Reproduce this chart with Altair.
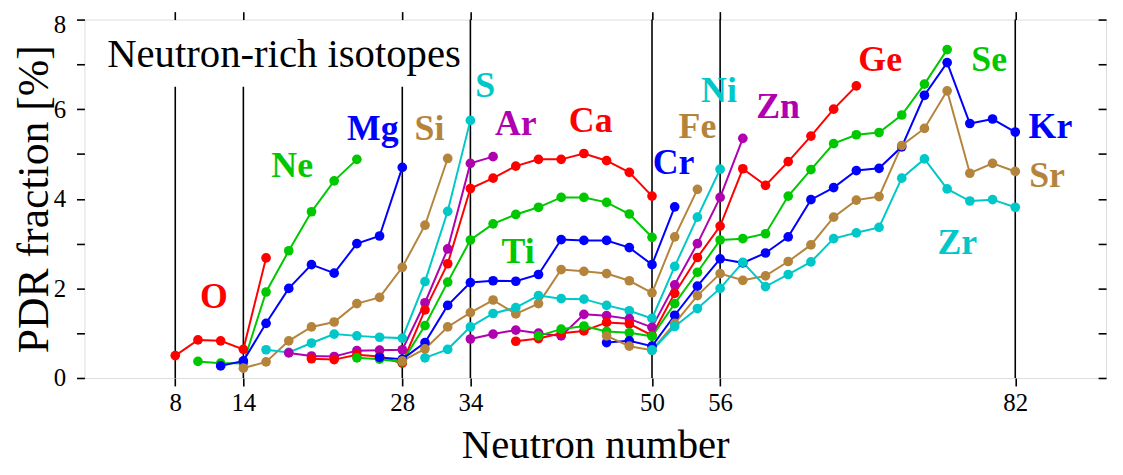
import altair as alt
import pandas as pd

# ---------------- data ----------------
elements = ["O", "Ne", "Mg", "Si", "S", "Ar", "Ca", "Ti", "Cr", "Fe",
            "Ni", "Zn", "Ge", "Se", "Kr", "Sr", "Zr"]
colors = ["#ff0000", "#00c800", "#0000ff", "#b5843c", "#00c8c8", "#b000b0",
          "#ff0000", "#00c800", "#0000ff", "#b5843c", "#00c8c8", "#b000b0",
          "#ff0000", "#00c800", "#0000ff", "#b5843c", "#00c8c8"]
# first neutron number of each isotopic chain (even-even nuclei, step 2)
start_n = [8, 10, 12, 14, 16, 18, 20, 24, 26, 28, 30, 34, 38, 40, 46, 46, 50]

O_vals = [0.50, 0.85, 0.83, 0.64, 2.68]
Ne_vals = [0.37, 0.33, 0.33, 1.92, 2.84, 3.71, 4.40, 4.88]
Mg_vals = [0.27, 0.38, 1.22, 2.00, 2.53, 2.34, 3.00, 3.17, 4.70]
Si_vals = [0.22, 0.36, 0.83, 1.14, 1.25, 1.66, 1.80, 2.47, 3.41, 4.90]
S_vals = [0.63, 0.57, 0.78, 0.98, 0.94, 0.91, 0.89, 2.15, 3.72, 5.75]
Ar_vals = [0.56, 0.49, 0.48, 0.61, 0.62, 0.63, 1.68, 2.88, 4.79, 4.94]
Ca_vals = [0.43, 0.41, 0.52, 0.48, 0.33, 1.52, 2.55, 4.23, 4.46, 4.73,
           4.88, 4.88, 5.01, 4.85, 4.59, 4.06]
Ti_vals = [0.45, 0.42, 0.36, 1.17, 2.14, 3.08, 3.44, 3.65, 3.81, 4.03,
           4.03, 3.92, 3.66, 3.14]
Cr_vals = [0.46, 0.42, 0.79, 1.62, 2.13, 2.17, 2.16, 2.31, 3.09, 3.07,
           3.07, 2.91, 2.53, 3.82]
Fe_vals = [0.38, 0.65, 1.14, 1.46, 1.74, 1.43, 1.66, 2.42, 2.38, 2.33,
           2.17, 1.90, 3.15, 4.21]
Ni_vals = [0.45, 0.64, 1.14, 1.44, 1.57, 1.84, 1.77, 1.76, 1.62, 1.50,
           1.33, 2.49, 3.59, 4.66]
Zn_vals = [0.87, 0.98, 1.07, 1.00, 0.94, 1.42, 1.39, 1.32, 1.13, 2.08,
           3.00, 4.03, 5.35]
Ge_vals = [0.82, 0.88, 1.00, 1.05, 1.24, 1.21, 0.95, 1.89, 2.69, 3.39,
           4.67, 4.30, 4.83, 5.40, 6.00, 6.52]
Se_vals = [0.94, 1.09, 1.16, 1.04, 1.01, 0.93, 1.66, 2.36, 3.08, 3.11,
           3.22, 4.06, 4.65, 5.23, 5.43, 5.48, 5.87, 6.56, 7.33]
Kr_vals = [0.79, 0.83, 0.71, 1.40, 2.05, 2.66, 2.57, 2.79, 3.15, 3.98,
           4.25, 4.63, 4.68, 5.16, 6.31, 7.04, 5.68, 5.78, 5.49]
Sr_vals = [0.94, 0.71, 0.62, 1.22, 1.84, 2.33, 2.18, 2.28, 2.60, 2.97,
           3.59, 3.97, 4.05, 5.19, 5.57, 6.41, 4.57, 4.79, 4.61]
Zr_vals = [0.62, 1.15, 1.55, 2.00, 2.58, 2.04, 2.31, 2.59, 3.11, 3.24,
           3.36, 4.46, 4.89, 4.22, 3.95, 3.98, 3.81]

all_vals = [O_vals, Ne_vals, Mg_vals, Si_vals, S_vals, Ar_vals, Ca_vals,
            Ti_vals, Cr_vals, Fe_vals, Ni_vals, Zn_vals, Ge_vals, Se_vals,
            Kr_vals, Sr_vals, Zr_vals]

# element label anchor positions (data units)
label_n = [11.4, 18.3, 25.4, 30.4, 35.3, 38.0, 44.6, 38.2, 51.9, 54.0,
           55.9, 61.1, 70.1, 79.7, 85.1, 84.8, 76.9]
label_y = [1.80, 4.72, 5.56, 5.56, 6.52, 5.67, 5.74, 2.82, 4.79, 5.60,
           6.40, 6.04, 7.09, 7.09, 5.60, 4.51, 3.01]

magic = [8, 14, 28, 34, 50, 56, 82]
magic_top = [6.5, 6.5, 6.5, 8, 8, 8, 8]

title_text = "Neutron-rich isotopes"
title_n = 2.0
title_y = 6.95

# ---------------- tables ----------------
rows = []
for el, s, vals in zip(elements, start_n, all_vals):
    for i, v in enumerate(vals):
        rows.append({"el": el, "N": s + 2 * i, "PDR": v, "ord": elements.index(el)})
df = pd.DataFrame(rows)
lab_df = pd.DataFrame({"el": elements, "N": label_n, "PDR": label_y})
magic_df = pd.DataFrame({"N": magic, "y0": [0] * len(magic), "y1": magic_top})
title_df = pd.DataFrame({"t": [title_text], "N": [title_n], "PDR": [title_y]})

FONT = "Liberation Serif"
xscale = alt.Scale(domain=[0, 90], nice=False, zero=False)
yscale = alt.Scale(domain=[0, 8], nice=False, zero=True)
cscale = alt.Scale(domain=elements, range=colors)

rules = alt.Chart(magic_df).mark_rule(color="black", strokeWidth=1.6).encode(
    x=alt.X("N:Q", scale=xscale,
            axis=alt.Axis(orient="top", values=magic, labels=False, tickSize=8,
                          tickWidth=1.6, tickColor="black", domain=False,
                          grid=False, title=None)),
    y=alt.Y("y0:Q", scale=yscale,
            axis=alt.Axis(orient="right", values=list(range(9)), labels=False,
                          tickSize=8, tickWidth=1.6, tickColor="black",
                          offset=-8, domain=False, grid=False, title=None)),
    y2="y1:Q",
)

lines = alt.Chart(df).mark_line(strokeWidth=2).encode(
    x=alt.X("N:Q", scale=xscale,
            axis=alt.Axis(orient="bottom", values=magic, tickSize=8,
                          tickWidth=1.6, tickColor="black", domain=False,
                          grid=False, labelFontSize=25, labelColor="black",
                          labelPadding=5, labelFont=FONT,
                          title="Neutron number", titleFontSize=41,
                          titleFont=FONT, titleFontWeight="normal",
                          titleColor="black", titleBaseline="alphabetic",
                          titlePadding=42)),
    y=alt.Y("PDR:Q", scale=yscale,
            axis=alt.Axis(orient="left", values=list(range(9)), tickSize=8,
                          tickWidth=1.6, tickColor="black", domain=False,
                          grid=False, labelFontSize=25, labelColor="black",
                          labelFont=FONT, labelPadding=11,
                          labelOffset={"condition": {"test": "datum.value == 8",
                                                     "value": 5},
                                       "value": 0},
                          labelExpr="datum.value % 2 == 0 ? datum.label : ''",
                          title="PDR fraction [%]", titleFontSize=44,
                          titleFont=FONT, titleFontWeight="normal",
                          titleColor="black", titleBaseline="alphabetic",
                          titlePadding=6)),
    color=alt.Color("el:N", scale=cscale, legend=None),
    detail="el:N",
    order="N:Q",
)

points = alt.Chart(df).mark_circle(size=95, opacity=1).encode(
    x=alt.X("N:Q", scale=xscale, axis=None),
    y=alt.Y("PDR:Q", scale=yscale, axis=None),
    color=alt.Color("el:N", scale=cscale, legend=None),
    order="ord:Q",
)

labels = alt.Chart(lab_df).mark_text(
    font=FONT, fontSize=36, fontWeight="bold", align="center", baseline="middle"
).encode(
    x=alt.X("N:Q", scale=xscale, axis=None),
    y=alt.Y("PDR:Q", scale=yscale, axis=None),
    text="el:N",
    color=alt.Color("el:N", scale=cscale, legend=None),
)

title = alt.Chart(title_df).mark_text(
    font=FONT, fontSize=41, align="left", baseline="alphabetic", color="black"
).encode(
    x=alt.X("N:Q", scale=xscale, axis=None),
    y=alt.Y("PDR:Q", scale=yscale, axis=None),
    text="t:N",
)

chart = alt.layer(rules, lines, points, labels, title).resolve_axis(
    x="independent", y="independent"
).properties(
    width=1029,
    height=361,
    autosize=alt.AutoSizeParams(type="none"),
    padding={"left": 77, "top": 10, "right": 9, "bottom": 88},
).configure_view(stroke="black", strokeWidth=2).configure(font=FONT)

chart.save("out.html", embed_options={"renderer": "svg", "actions": False})
